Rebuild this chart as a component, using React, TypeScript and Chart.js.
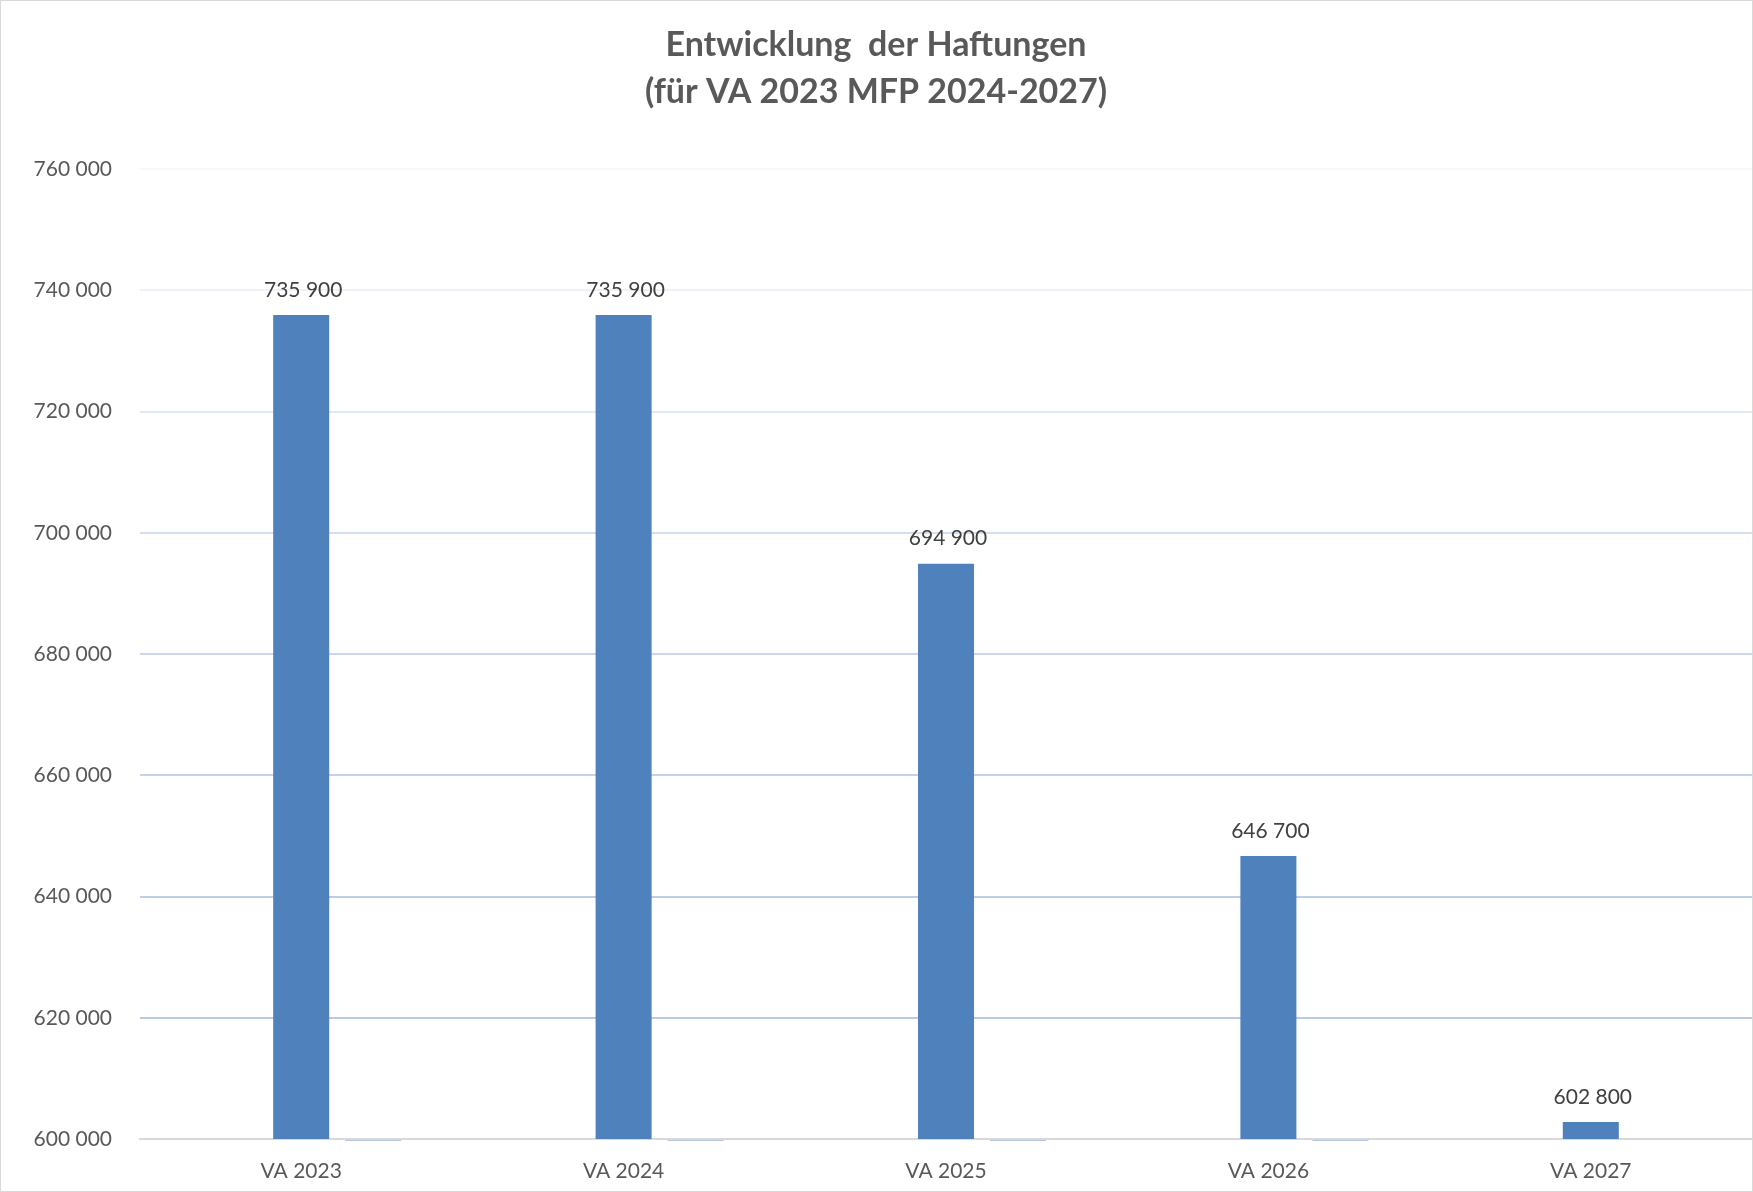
import React, { useEffect, useRef } from "react";
import { Chart, registerables } from "chart.js";

Chart.register(...registerables);

const categories = ["VA 2023", "VA 2024", "VA 2025", "VA 2026", "VA 2027"];
const emptySeries: (number | null)[] = [null, null, null, null, null];
const haftungen = [735900, 735900, 694900, 646700, 602800];
const baselineSeries: (number | null)[] = [599700, 599700, 599700, 599700, null];
const titleLines = ["Entwicklung  der Haftungen", "(für VA 2023 MFP 2024-2027)"];
const yMin = 600000;
const yMax = 760000;
const yStep = 20000;

const W = 1751;
const H = 1190;
const FONT = "Lato, 'Open Sans', 'DejaVu Sans', sans-serif";

const fmt = (v: number) => String(v).replace(/\B(?=(\d{3})+(?!\d))/g, " ");

const gridColors: Record<number, string> = {
  600000: "#d9d9d9",
  620000: "#b9cae2",
  640000: "#bccde4",
  660000: "#c4d3e8",
  680000: "#cbd8eb",
  700000: "#d3deef",
  720000: "#e2e9f4",
  740000: "#eef2f8",
  760000: "#f6f8fc",
};

const titlePlugin = {
  id: "customTitle",
  afterDraw(chart: any) {
    const ctx = chart.ctx;
    ctx.save();
    ctx.fillStyle = "#595959";
    ctx.font = `bold 34px ${FONT}`;
    ctx.textAlign = "center";
    ctx.textBaseline = "alphabetic";
    ctx.fillText(titleLines[0], 875, 55);
    ctx.fillText(titleLines[1], 875, 102);
    ctx.restore();
  },
};

const labelPlugin = {
  id: "valueLabels",
  afterDatasetsDraw(chart: any) {
    const ctx = chart.ctx;
    const meta = chart.getDatasetMeta(1);
    ctx.save();
    ctx.fillStyle = "#404040";
    ctx.font = `21px ${FONT}`;
    ctx.textAlign = "center";
    ctx.textBaseline = "middle";
    meta.data.forEach((el: any, i: number) => {
      ctx.fillText(fmt(haftungen[i]), el.x + 2, el.y - 25);
    });
    ctx.restore();
  },
};

export default function App() {
  const ref = useRef<HTMLCanvasElement | null>(null);

  useEffect(() => {
    document.body.style.margin = "0";
    const canvas = ref.current;
    if (!canvas) return;
    const chart = new Chart(canvas, {
      type: "bar",
      data: {
        labels: categories,
        datasets: [
          {
            label: "Reihe 1",
            data: emptySeries as any,
            backgroundColor: "#4f81bd",
          },
          {
            label: "Haftungen",
            data: haftungen,
            backgroundColor: "#4f81bd",
          },
          {
            label: "Reihe 3",
            data: baselineSeries as any,
            backgroundColor: "#9fb3d6",
            base: 600000,
            clip: false as any,
          } as any,
        ],
      },
      options: {
        responsive: false,
        animation: false,
        devicePixelRatio: 1,
        layout: { padding: { top: 168, left: 0, right: 0, bottom: 0 } },
        datasets: {
          bar: { categoryPercentage: 0.67, barPercentage: 0.778 },
        },
        plugins: {
          legend: { display: false },
          title: { display: false },
          tooltip: { enabled: false },
        },
        scales: {
          x: {
            grid: { display: false, drawTicks: false },
            border: { display: true, color: "#d9d9d9", width: 2 },
            ticks: {
              color: "#595959",
              font: { family: FONT, size: 21 },
              padding: 20,
            },
            afterFit: (scale: any) => {
              scale.height = 52;
            },
          },
          y: {
            min: yMin,
            max: yMax,
            grid: {
              drawTicks: false,
              lineWidth: 2,
              color: (c: any) => gridColors[c.tick?.value] ?? "#d9e1ee",
            },
            border: { display: false },
            ticks: {
              stepSize: yStep,
              color: "#595959",
              font: { family: FONT, size: 21 },
              padding: 28,
              callback: (v: any) => fmt(Number(v)),
            },
            afterFit: (scale: any) => {
              scale.width = 139;
            },
          },
        },
      },
      plugins: [titlePlugin, labelPlugin],
    });
    return () => chart.destroy();
  }, []);

  return (
    <div
      style={{
        width: 1753,
        height: 1192,
        boxSizing: "border-box",
        border: "1px solid #d9d9d9",
        background: "#fff",
        position: "relative",
      }}
    >
      <canvas ref={ref} width={W} height={H} style={{ display: "block", width: W, height: H }} />
    </div>
  );
}
